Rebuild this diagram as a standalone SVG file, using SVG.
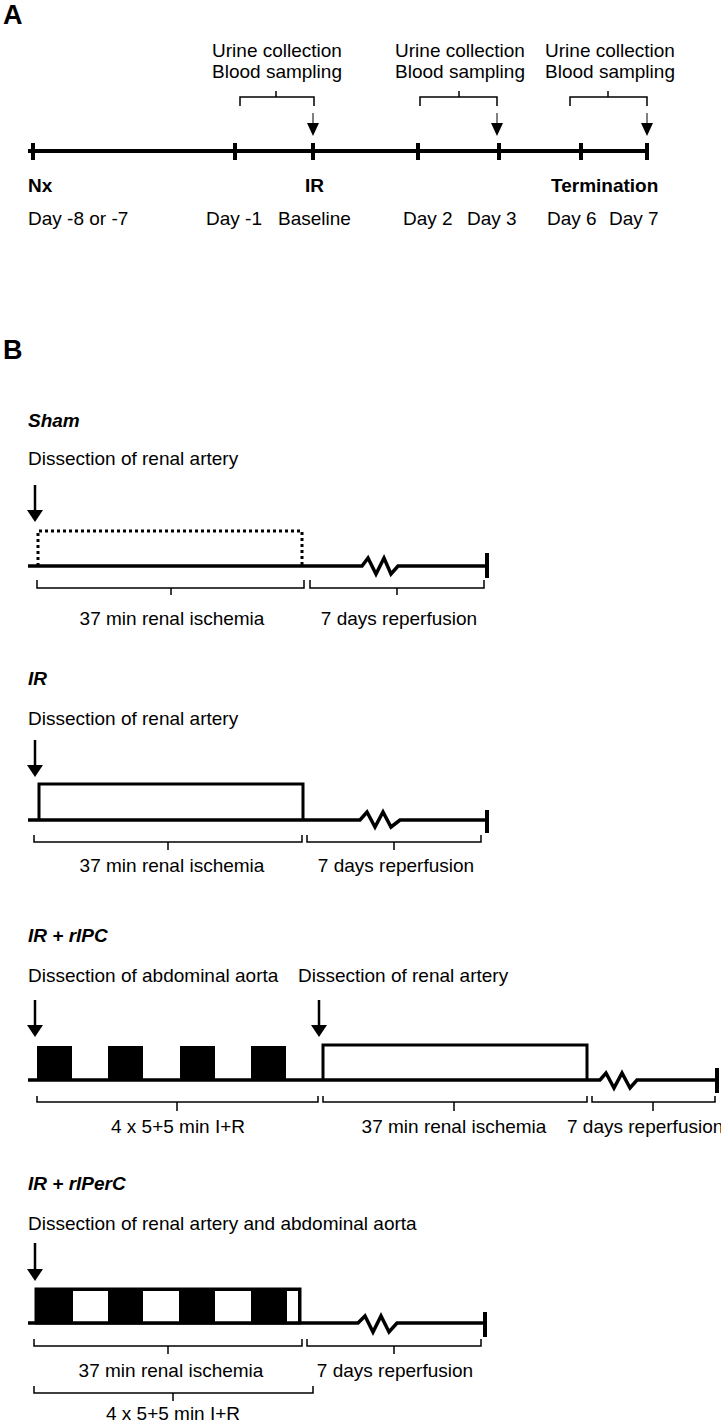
<svg xmlns="http://www.w3.org/2000/svg" width="721" height="1424" viewBox="0 0 721 1424">
<style>
text{font-family:"Liberation Sans",Arial,sans-serif;font-size:19px;fill:#000}
.b{font-weight:bold}
.bi{font-weight:bold;font-style:italic}
.panel{font-weight:bold;font-size:27px}
.m{text-anchor:middle}
.tl{stroke:#000;stroke-width:4;fill:none}
.tl3{stroke:#000;stroke-width:3.5;fill:none}
.br{stroke:#000;stroke-width:1.5;fill:none}
.bx{stroke:#000;stroke-width:3;fill:none}
.dot{stroke:#000;stroke-width:3;fill:none;stroke-dasharray:3 3}
.stem{stroke:#000;stroke-width:2.5}
.thin{stroke:#000;stroke-width:1}
</style>
<rect width="721" height="1424" fill="#fff"/>

<g id="panelA">
  <text class="panel" x="3" y="24">A</text>
  <g id="timelineA">
    <path class="tl" d="M28,151 H648"/>
    <path class="tl" d="M33,143 V160 M235,143 V160 M313,143 V160 M418,143 V160 M499,143 V160 M581,143 V160 M647,143 V160"/>
  </g>
  <g id="sample1">
    <text class="m" x="277" y="57">Urine collection</text>
    <text class="m" x="277" y="78">Blood sampling</text>
    <path class="br" d="M240,106 V97 H314 V106 M276,97 V91"/>
  </g>
  <g id="sample2">
    <text class="m" x="460" y="57">Urine collection</text>
    <text class="m" x="460" y="78">Blood sampling</text>
    <path class="br" d="M420,106 V97 H497 V106 M459,97 V91"/>
  </g>
  <g id="sample3">
    <text class="m" x="610" y="57">Urine collection</text>
    <text class="m" x="610" y="78">Blood sampling</text>
    <path class="br" d="M570,106 V97 H647 V106 M608,97 V91"/>
  </g>
  <g id="arrowsA">
    <path class="thin" d="M313,113 V124 M497,113 V124 M647,113 V124"/>
    <polygon points="307,123 319,123 313,136"/>
    <polygon points="491,123 503,123 497,136"/>
    <polygon points="641,123 653,123 647,136"/>
  </g>
  <g id="labelsA">
    <text class="b" x="28" y="192">Nx</text>
    <text class="b" x="305" y="192">IR</text>
    <text class="b" x="551" y="192">Termination</text>
    <text x="28" y="225">Day -8 or -7</text>
    <text x="206" y="225">Day -1</text>
    <text x="278" y="225">Baseline</text>
    <text x="403" y="225">Day 2</text>
    <text x="467" y="225">Day 3</text>
    <text x="547" y="225">Day 6</text>
    <text x="609" y="225">Day 7</text>
  </g>
</g>

<g id="panelB">
  <text class="panel" x="3" y="359">B</text>

  <g id="sham">
    <text class="bi" x="28" y="427">Sham</text>
    <text x="28" y="465">Dissection of renal artery</text>
    <line class="stem" x1="35" y1="485" x2="35" y2="511"/>
    <polygon points="27,510 43,510 35,522"/>
    <path class="dot" d="M38,566 V531 H302 V566"/>
    <path class="tl3" d="M28,566 H362 L368,558 L376,574 L384,558 L391,574 L398,566 H487"/>
    <path class="tl" d="M487,553 V578"/>
    <path class="br" d="M37,580 V588 H304 V580 M171,588 V595 M310,580 V588 H484 V580 M397,588 V595"/>
    <text class="m" x="172" y="625">37 min renal ischemia</text>
    <text class="m" x="399" y="625">7 days reperfusion</text>
  </g>

  <g id="ir">
    <text class="bi" x="28" y="685">IR</text>
    <text x="28" y="725">Dissection of renal artery</text>
    <line class="stem" x1="35" y1="740" x2="35" y2="766"/>
    <polygon points="27,765 43,765 35,777"/>
    <path class="bx" d="M39,820 V784 H303 V820"/>
    <path class="tl3" d="M28,820 H360 L367,812 L375,827 L383,812 L391,827 L400,820 H487"/>
    <path class="tl" d="M487,810 V833"/>
    <path class="br" d="M34,835 V842 H302 V835 M168,842 V850 M307,835 V842 H481 V835 M394,842 V850"/>
    <text class="m" x="172" y="872">37 min renal ischemia</text>
    <text class="m" x="396" y="872">7 days reperfusion</text>
  </g>

  <g id="ir-ripc">
    <text class="bi" x="28" y="942">IR + rIPC</text>
    <text x="28" y="982">Dissection of abdominal aorta</text>
    <text x="298" y="982">Dissection of renal artery</text>
    <line class="stem" x1="35" y1="1000" x2="35" y2="1026"/>
    <polygon points="27,1025 43,1025 35,1037"/>
    <line class="stem" x1="319" y1="1000" x2="319" y2="1026"/>
    <polygon points="311,1025 327,1025 319,1037"/>
    <rect x="37" y="1046" width="35" height="34"/>
    <rect x="108" y="1046" width="35" height="34"/>
    <rect x="180" y="1046" width="35" height="34"/>
    <rect x="251" y="1046" width="35" height="34"/>
    <path class="bx" d="M323,1080 V1045 H587 V1080"/>
    <path class="tl3" d="M28,1080 H600 L606,1073 L614,1088 L622,1073 L630,1088 L637,1080 H717"/>
    <path class="tl" d="M717,1068 V1093"/>
    <path class="br" d="M37,1096 V1102 H318 V1096 M177,1102 V1111 M323,1096 V1102 H587 V1096 M454,1102 V1111 M592,1096 V1102 H715 V1096 M653,1102 V1111"/>
    <text class="m" x="178" y="1133">4 x 5+5 min I+R</text>
    <text class="m" x="454" y="1133">37 min renal ischemia</text>
    <text x="567" y="1133">7 days reperfusion</text>
  </g>

  <g id="ir-riperc">
    <text class="bi" x="28" y="1190">IR + rIPerC</text>
    <text x="28" y="1230">Dissection of renal artery and abdominal aorta</text>
    <line class="stem" x1="35" y1="1243" x2="35" y2="1270"/>
    <polygon points="27,1269 43,1269 35,1281"/>
    <rect x="36" y="1289" width="264" height="34" fill="#000" stroke="#000" stroke-width="3"/>
    <rect x="73" y="1291" width="35" height="31" fill="#fff"/>
    <rect x="143" y="1291" width="36" height="31" fill="#fff"/>
    <rect x="215" y="1291" width="36" height="31" fill="#fff"/>
    <rect x="287" y="1291" width="11" height="31" fill="#fff"/>
    <path class="tl3" d="M28,1323 H358 L365,1316 L373,1332 L381,1316 L389,1332 L397,1323 H485"/>
    <path class="tl" d="M485,1312 V1337"/>
    <path class="br" d="M34,1339 V1346 H302 V1339 M168,1346 V1354 M307,1339 V1346 H481 V1339 M394,1346 V1354"/>
    <text class="m" x="171" y="1377">37 min renal ischemia</text>
    <text class="m" x="395" y="1377">7 days reperfusion</text>
    <path class="br" d="M34,1386 V1393 H313 V1386 M173,1393 V1401"/>
    <text class="m" x="173" y="1420">4 x 5+5 min I+R</text>
  </g>
</g>
</svg>
